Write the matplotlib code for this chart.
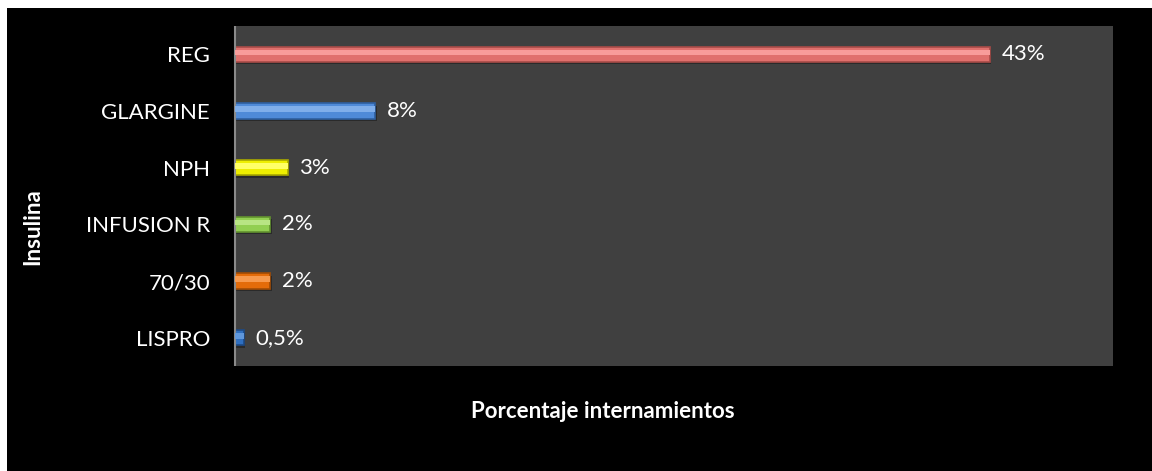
import matplotlib.pyplot as plt
from matplotlib.patches import Rectangle
import numpy as np

categories = ['REG', 'GLARGINE', 'NPH', 'INFUSION R', '70/30', 'LISPRO']
values = [43, 8, 3, 2, 2, 0.5]
labels = ['43%', '8%', '3%', '2%', '2%', '0,5%']
base_cols = ['#E0706D', '#4F8AD8', '#EEEE00', '#92CF52', '#E46C0A', '#2F6FC0']
light_cols = ['#F89C9A', '#80AEEA', '#FFFF66', '#B8E584', '#F79A4E', '#5F97DC']
dark_cols = ['#A84B48', '#2F5F9F', '#A8A800', '#62922F', '#A04C06', '#1D4A86']

plt.rcParams['font.family'] = ['Lato', 'DejaVu Sans']

fig = plt.figure(figsize=(11.52, 4.71), dpi=100, facecolor='white')
# black panel with thin white margin on left and top
fig.patches.append(Rectangle((7/1152, -0.1), 1.2, 1.1 - 8/471, transform=fig.transFigure,
                             facecolor='black', edgecolor='none', zorder=-1))

ax = fig.add_axes([235/1152, 1 - 366/471, 878/1152, 340/471])
ax.set_zorder(2)
ax.set_facecolor('#404040')

y = np.arange(len(categories))
h = 0.27
# shadow, body, highlight
ax.barh(y + 0.04, values, height=h, left=0.08, color='#2a2a2a', zorder=1)
ax.barh(y, values, height=h, color=base_cols, edgecolor=dark_cols, linewidth=1.2, zorder=2)
ax.barh(y - h * 0.12, values, height=h * 0.35, color=light_cols, linewidth=0, zorder=3)

for yi, v, lab in zip(y, values, labels):
    ax.text(v + 0.65, yi, lab, color='white', fontsize=16, va='center', ha='left')

ax.set_xlim(0, 50)
ax.set_ylim(len(categories) - 0.5, -0.5)
ax.set_yticks(y)
ax.set_yticklabels(categories, fontsize=16, color='white')
ax.tick_params(axis='y', length=0, pad=18)
ax.set_xticks([])
for s in ['top', 'right', 'bottom']:
    ax.spines[s].set_visible(False)
ax.spines['left'].set_color('#8a8a8a')
ax.spines['left'].set_linewidth(1.5)
ax.spines['left'].set_capstyle('butt')

fig.text(603/1152, 1 - 411/471, 'Porcentaje internamientos', color='white',
         fontsize=16, fontweight='bold', ha='center', va='center', zorder=3)
fig.text(33/1152, 1 - 227/471, 'Insulina', color='white', fontsize=16,
         fontweight='bold', ha='center', va='center', rotation=90, zorder=3)

fig.savefig('out.png', dpi=100, facecolor=fig.get_facecolor())
